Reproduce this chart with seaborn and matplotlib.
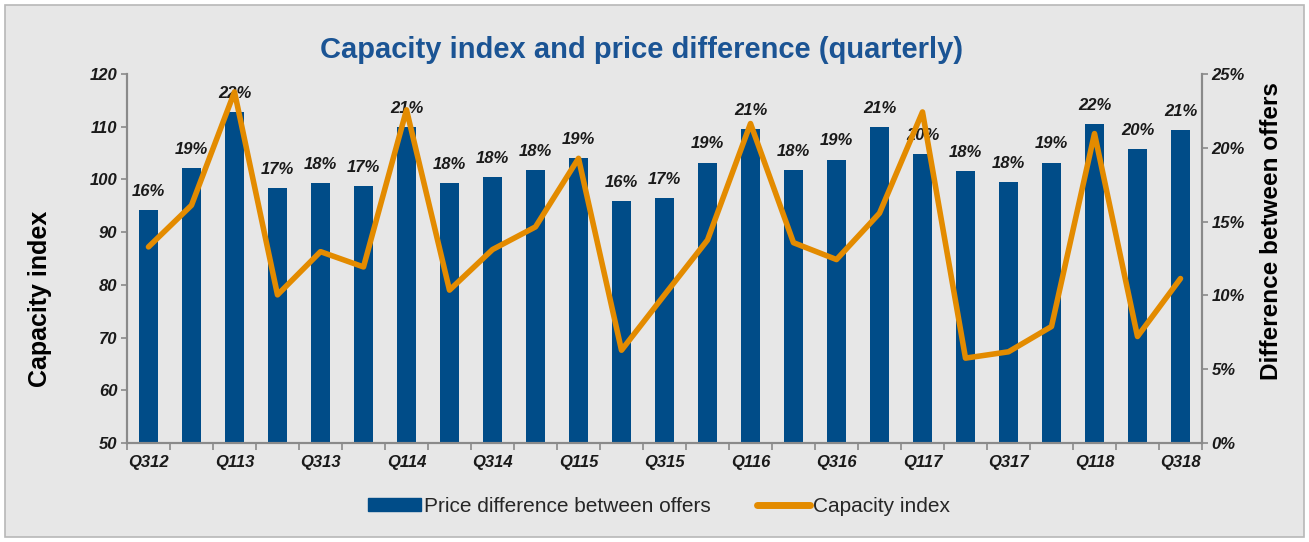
import numpy as np
import pandas as pd
import matplotlib.pyplot as plt
import seaborn as sns
from matplotlib.patches import Rectangle, Patch
from matplotlib.lines import Line2D

# ── DATA ───────────────────────────────────────────────────────────
quarters = ["Q312", "Q412", "Q113", "Q213", "Q313", "Q413", "Q114", "Q214",
            "Q314", "Q414", "Q115", "Q215", "Q315", "Q415", "Q116", "Q216",
            "Q316", "Q416", "Q117", "Q217", "Q317", "Q417", "Q118", "Q218",
            "Q318"]
# price difference between offers (%), right axis -> bars
price_diff = [15.8, 18.6, 22.4, 17.3, 17.6, 17.4, 21.4, 17.6, 18.0, 18.5,
              19.3, 16.4, 16.6, 19.0, 21.3, 18.5, 19.2, 21.4, 19.6, 18.4,
              17.7, 19.0, 21.6, 19.9, 21.2]
# capacity index, left axis -> line
capacity_index = [87.2, 95.1, 116.6, 78.1, 86.3, 83.4, 113.2, 79.0, 86.7, 91.0,
                  104.0, 67.6, 78.1, 88.5, 110.6, 88.0, 84.8, 93.6, 112.8, 66.1,
                  67.3, 72.1, 108.7, 70.2, 81.2]
left_ticks = [50, 60, 70, 80, 90, 100, 110, 120]
right_ticks = [0, 5, 10, 15, 20, 25]

BLUE = "#004c88"
ORANGE = "#e38b00"
GRAY = "#8a8a8a"
PANEL = "#e7e7e7"
TXT = "#1a1a1a"

sns.set_style("ticks")
plt.rcParams["font.family"] = ["Liberation Sans", "DejaVu Sans"]

W, H = 1309, 542
fig = plt.figure(figsize=(W / 100, H / 100), dpi=100)
fig.patch.set_facecolor("white")
# grey panel behind everything
fig.patches.append(Rectangle((5 / W, 5 / H), 1299 / W, 532 / H,
                             transform=fig.transFigure, facecolor=PANEL,
                             edgecolor="#b8b8b8", linewidth=1.2, zorder=-5))

df = pd.DataFrame({"quarter": quarters, "price": price_diff,
                   "capacity": capacity_index})

# bars on the primary axes (values in %, axis shown on the right)
ax_bar = fig.add_axes([127 / W, 1 - 443 / H, (1202 - 127) / W, (443 - 74) / H])
ax_bar.patch.set_visible(False)
sns.barplot(data=df, x="quarter", y="price", ax=ax_bar, color=BLUE,
            width=0.44, saturation=1, linewidth=0)
ax_bar.bar_label(ax_bar.containers[0],
                 labels=[f"{v:.0f}%" for v in price_diff],
                 padding=8, fontsize=12, fontweight="bold",
                 fontstyle="italic", color=TXT)

# line on the twin axes (capacity index, axis shown on the left)
ax_line = ax_bar.twinx()
sns.lineplot(data=df, x="quarter", y="capacity", ax=ax_line, color=ORANGE,
             linewidth=4.0, sort=False)

ax_bar.yaxis.tick_right()
ax_line.yaxis.tick_left()

ax_bar.set_xlim(-0.5, len(quarters) - 0.5)
ax_bar.set_ylim(0, 25)
ax_line.set_ylim(50, 120)

ax_line.set_yticks(left_ticks)
ax_line.set_yticklabels([str(t) for t in left_ticks], fontsize=12,
                        fontweight="bold", fontstyle="italic", color=TXT)
ax_bar.set_yticks(right_ticks)
ax_bar.set_yticklabels([f"{t}%" for t in right_ticks], fontsize=12,
                       fontweight="bold", fontstyle="italic", color=TXT)

# x axis: ticks at category boundaries, labels every other quarter
ax_bar.set_xticks(np.arange(-0.5, len(quarters), 1))
ax_bar.set_xticklabels([])
ax_bar.set_xticks(np.arange(0, len(quarters), 2), minor=True)
ax_bar.set_xticklabels(quarters[::2], minor=True, fontsize=12,
                       fontweight="bold", fontstyle="italic", color=TXT)
ax_bar.tick_params(axis="x", which="major", length=5, width=1.2, color=GRAY)
ax_bar.tick_params(axis="x", which="minor", length=0, pad=9)
for a in (ax_bar, ax_line):
    a.tick_params(axis="y", length=4, width=1.2, color=GRAY, pad=3)
    a.set_xlabel("")
    a.set_ylabel("")
    a.spines["top"].set_visible(False)
    for s in ("left", "right", "bottom"):
        a.spines[s].set_color(GRAY)
        a.spines[s].set_linewidth(1.5)

# titles and axis labels
fig.text(642 / W, 1 - 50 / H, "Capacity index and price difference (quarterly)",
         ha="center", va="center", fontsize=21, fontweight="bold",
         color="#1b5494")
fig.text(40 / W, 1 - 299 / H, "Capacity index", rotation=90, ha="center",
         va="center", fontsize=18, fontweight="bold", color="black")
fig.text(1271 / W, 1 - 231 / H, "Difference between offers", rotation=90,
         ha="center", va="center", fontsize=17.5, fontweight="bold",
         color="black")

# legend
handles = [Patch(facecolor=BLUE, edgecolor=BLUE),
           Line2D([], [], color=ORANGE, linewidth=5, solid_capstyle="round")]
leg = fig.legend(handles, ["Price difference between offers", "Capacity index"],
                 loc="center", bbox_to_anchor=(659 / W, 1 - 506 / H), ncol=2,
                 frameon=False, fontsize=15, handlelength=2.55,
                 handleheight=0.6, handletextpad=0.15, columnspacing=2.2)
for t in leg.get_texts():
    t.set_color("#262626")

plt.savefig("out.png", dpi=100)
